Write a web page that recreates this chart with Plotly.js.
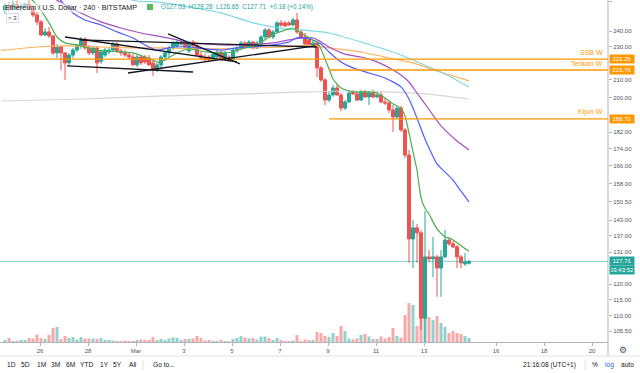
<!DOCTYPE html>
<html><head><meta charset="utf-8">
<script src="https://cdn.plot.ly/plotly-3.0.1.min.js"></script>
<style>html,body{margin:0;padding:0;background:#fff;overflow:hidden}#chart{width:640px;height:373px}</style>
</head><body><div id="chart"></div>
<script>
// ---- 4h candles, ETH/USD Bitstamp (first candle Feb 24 13:00, every 4 hours)
const OPEN  = [254.4,257.2,255.0,258.6,255.7,257.2,258.6,255.7,250.9,246.2,
               237.5,239.5,236.9,226.1,229.8,226.1,220.0,224.8,227.9,230.5,
               234.9,229.2,226.1,229.2,221.0,224.8,226.7,227.9,231.7,227.3,
               226.1,224.8,223.6,218.8,223.6,223.6,223.0,220.0,215.8,218.8,
               223.6,226.1,229.2,230.5,231.7,233.0,227.3,233.0,230.5,224.8,
               223.0,223.6,222.4,223.6,226.7,221.8,223.6,221.8,227.9,229.2,
               232.4,229.8,233.0,229.2,232.4,236.2,240.8,236.2,239.5,245.5,
               245.5,245.5,244.1,247.5,239.5,236.2,234.3,231.1,232.4,217.0,
               210.0,198.7,201.5,205.4,201.5,194.4,197.7,203.2,202.1,198.7,
               203.2,200.4,202.6,200.4,201.5,197.7,197.1,193.4,189.7,194.4,
               183.1,170.9,135.8,140.0,138.1,109.3,129.3,128.6,129.3,125.4,
               129.3,135.4,134.0,132.9,129.3,126.8,127.03];
const HIGH  = [259.3,260.0,260.7,261.0,259.3,259.3,261.0,257.9,253.0,247.5,
               242.1,242.8,237.5,231.7,231.1,226.7,226.1,229.2,231.7,236.2,
               236.2,231.1,230.5,230.5,227.9,229.2,229.8,233.0,233.0,228.6,
               227.9,226.7,225.4,224.8,224.2,224.8,224.8,221.2,220.0,224.8,
               227.3,230.5,233.7,234.3,234.3,233.7,233.7,234.3,233.0,226.7,
               225.4,224.8,226.7,227.9,227.3,227.3,224.8,228.6,230.5,233.7,
               233.7,234.3,233.7,233.7,237.5,242.1,242.1,240.8,246.8,247.5,
               246.8,246.8,248.9,252.3,240.8,238.8,235.6,233.7,233.0,218.2,
               211.1,203.2,207.1,207.1,202.6,198.7,203.7,204.3,203.7,204.3,
               204.3,203.7,204.3,203.2,203.7,199.9,198.2,196.0,195.5,195.5,
               184.1,173.3,143.0,141.5,139.2,146.6,131.7,136.6,130.0,131.7,
               139.2,136.2,135.1,133.6,130.0,130.7,128.28];
const LOW   = [251.6,253.0,253.7,254.4,253.0,256.0,254.4,249.5,244.1,236.9,
               236.9,235.6,224.8,223.0,215.8,210.0,218.2,223.0,226.7,228.6,
               227.9,224.8,224.8,214.0,219.4,223.6,225.4,227.3,226.1,224.2,
               223.6,222.4,218.2,217.6,218.8,219.4,218.2,212.3,214.6,216.4,
               221.2,223.6,227.9,229.2,230.5,229.2,226.1,229.2,224.2,221.8,
               221.2,220.6,221.2,223.0,221.2,221.2,220.6,221.2,226.1,228.6,
               229.2,229.8,228.6,228.6,230.5,234.9,235.6,234.9,238.8,242.8,
               242.8,243.5,243.5,238.2,234.9,230.5,230.5,229.8,211.7,208.8,
               196.0,197.7,200.4,201.0,192.8,193.4,197.1,201.5,198.2,198.2,
               199.9,196.0,199.9,199.9,197.1,196.0,191.8,182.1,188.6,182.1,
               169.5,127.2,125.4,127.2,105.8,90.0,127.5,122.3,115.9,115.9,
               128.9,133.3,132.4,125.4,125.4,126.1,126.65];
const CLOSE = [257.2,255.0,258.6,255.7,257.2,258.6,255.7,250.9,246.2,237.5,
               239.5,236.9,226.1,229.8,226.1,220.0,224.8,227.9,230.5,234.9,
               229.2,226.1,229.2,220.0,226.7,227.9,227.9,231.7,227.3,226.1,
               224.8,223.6,218.8,223.6,220.0,220.6,218.8,215.8,218.8,223.6,
               226.1,229.2,232.4,233.0,233.0,229.8,232.4,230.5,224.8,223.0,
               221.8,221.8,225.4,226.7,221.8,226.1,221.8,227.9,229.2,232.4,
               229.8,233.0,229.2,232.4,236.2,240.8,236.2,239.5,245.5,244.1,
               243.5,244.1,247.5,239.5,236.2,231.7,231.1,232.4,217.0,210.0,
               198.7,201.5,205.4,201.5,194.4,197.7,202.6,202.1,198.7,203.2,
               200.4,202.6,200.4,201.5,197.7,197.1,193.4,189.7,194.4,183.1,
               170.9,135.8,140.0,138.1,109.3,129.3,128.6,129.3,125.4,129.3,
               135.4,134.0,132.9,129.3,127.2,127.53,127.71];
// volume (thousand ETH, relative)
const VOLUME_K = [2,4,1,1,2,2,4,3.5,7.5,4, 3,7,14,15,3,6,4,5,2.5,5,
                  3.5,3.5,3.5,3,4,2,2,1.5,1,1, 1.5,1,1,2,2.5,2,2,5,2,3,
                  2,3.5,4.5,4,2,3,3,3.5,6,4, 1.5,2,1,1,2,1,1,3,4,6,
                  4.5,3.5,4,2.5,5.5,5.5,4,2,4,2, 1,1,1.5,7,1,2.5,2,2,10,9,
                  6,5,9,6,16,11,3.5,2.5,3.5,7, 8,5.5,3,3,5.5,3.5,5,14,6,4.5,
                  27,39,37,16,60,45,25,22,26,19, 15,9,11,9,8,6,4];
// moving averages (candle index, price)
const MA_GREEN_IDX  = [5,8,11,13,15,18,20,23,26,29,32,35,38,39,43,46,50,54,57,60,63,66,68,71,72,74,77,78,79,81,82,84,87,91,93,95,97,99,100,101,102,103,104,105,106,108,110,111,112,114,116];
const MA_GREEN_VAL  = [266,257.9,245.5,236.2,232.4,231.1,229.8,227.9,227.3,226.7,226.1,223.6,220.6,220.6,226.1,228.6,226.7,226.1,226.7,229.2,231.1,236.2,238.8,241.5,242.1,238.8,234.3,233.0,228.6,216.4,210.5,205.4,203.2,203.2,202.6,199.9,196.6,194.4,190.2,181.6,172.4,164.0,152.1,147.7,145.4,139.6,136.6,136.2,135.4,133.3,131.3];
const MA_BLUE_IDX   = [13,17,20,24,28,32,35,38,42,46,50,54,58,62,67,71,73,76,78,79,81,84,87,91,95,99,101,103,105,106,108,110,112,114,116];
const MA_BLUE_VAL   = [264,252.3,247.5,244.1,239.5,235.6,231.1,227.9,229.8,229.8,228.6,227.9,229.2,229.8,231.1,233.0,235.6,234.9,233.0,231.7,226.7,220.6,217.0,214.0,211.1,206.0,199.3,189.1,178.6,174.3,166.8,163.1,159.6,154.8,150.3];
const MA_PURPLE_IDX = [12,15,19,24,29,34,38,43,46,50,54,58,63,67,71,74,77,79,81,85,89,93,97,99,101,103,105,107,109,111,113,116];
const MA_PURPLE_VAL = [263,257.9,252.3,246.2,242.1,238.8,236.9,234.3,232.4,231.7,231.1,231.1,231.7,232.4,234.3,235.6,235.6,233.0,229.8,225.4,223.6,220.6,215.8,212.8,208.8,202.6,196.6,190.7,185.1,181.1,177.6,173.3];
const MA_CYAN_IDX   = [28,33,38,46,54,62,70,74,81,89,97,102,106,110,116];
const MA_CYAN_VAL   = [264,260.7,260.0,256.4,252.3,245.5,241.5,240.8,238.8,233.0,226.7,221.8,217.6,213.4,206.0];
const MA_ORANGE_IDX = [-1,0,8,16,24,32,40,50,60,70,76,81,89,96,102,108,116];
const MA_ORANGE_VAL = [227.9,227.9,229.8,230.5,229.8,229.2,229.2,228.6,229.2,229.8,230.8,229.2,226.7,223.0,220.0,215.2,209.4];
const MA_GREY_IDX   = [-1,20,40,60,75,85,95,105,116];
const MA_GREY_VAL   = [198.2,199.3,201.0,202.1,203.2,203.7,203.2,202.1,199.3];
// drawn trend lines
const TREND_X0 = ['2020-02-27 01:00','2020-02-27 03:00','2020-03-02 08:00','2020-02-29 16:00','2020-02-27 16:00'];
const TREND_Y0 = [236.2,218.2,238.2,214.0,234.3];
const TREND_X1 = ['2020-03-05 05:00','2020-03-03 09:00','2020-03-05 08:00','2020-03-08 11:00','2020-03-08 13:00'];
const TREND_Y1 = [220.6,214.6,219.4,230.5,229.8];
// weekly ichimoku levels
const LEVEL_NAMES = ['SSB W','Tenkan W','Kijun W'];
const LEVEL_VALUES = [222.29,215.76,188.73];
const LEVEL_START = ['2020-02-20','2020-03-09 01:00','2020-03-09 01:00'];
const LAST_PRICE = 127.71;
const TICK_DATES = ['2020-02-26','2020-02-28','2020-03-01','2020-03-03','2020-03-05','2020-03-07','2020-03-09','2020-03-11','2020-03-13','2020-03-16','2020-03-18','2020-03-20'];
const TICK_LABELS = ['26','28','Mar','3','5','7','9','11','13','16','18','20'];
const PRICE_TICKS = [260,240,230,210,200,182,174,166,158,150.5,143,137,131,120,115,110,105.5];

const BASE = Date.UTC(2020,1,24,13,0);
function tAt(i){ return new Date(BASE + i*4*3600*1000).toISOString().slice(0,16).replace('T',' '); }
const TIME = OPEN.map((_,i)=>tAt(i));
const UP='#26a69a', DN='#ef5350';
const volColors = OPEN.map((o,i)=> CLOSE[i]>=o ? 'rgba(38,166,154,0.5)' : 'rgba(239,83,80,0.5)');

const W=608, Hh=342;
const px = x => x/W, py = y => 1 - y/Hh;
const FONT = 'Liberation Sans, Arial, sans-serif';

const traces = [];
traces.push({type:'bar', x:TIME, y:VOLUME_K, xaxis:'x', yaxis:'y', marker:{color:volColors, line:{width:0}}, hoverinfo:'skip'});
function ma(idx, val, color){
  traces.push({type:'scatter', mode:'lines', x:idx.map(tAt), y:val, xaxis:'x', yaxis:'y2',
    line:{color:color, width:1.2, shape:'spline', smoothing:0.6}, hoverinfo:'skip'});
}
ma(MA_GREY_IDX, MA_GREY_VAL, '#d6d6d6');
ma(MA_ORANGE_IDX, MA_ORANGE_VAL, '#ffb25e');
ma(MA_CYAN_IDX, MA_CYAN_VAL, '#7fd6e4');
ma(MA_PURPLE_IDX, MA_PURPLE_VAL, '#a64fc0');
ma(MA_BLUE_IDX, MA_BLUE_VAL, '#4f5cff');
ma(MA_GREEN_IDX, MA_GREEN_VAL, '#4caf50');
LEVEL_VALUES.forEach((v,k)=>{
  traces.push({type:'scatter', mode:'lines', x:[LEVEL_START[k],'2020-03-25'], y:[v,v], xaxis:'x', yaxis:'y2',
    line:{color:'#ff9800', width:1.3}, hoverinfo:'skip'});
});
traces.push({type:'scatter', mode:'lines', x:['2020-02-20','2020-03-25'], y:[LAST_PRICE,LAST_PRICE], xaxis:'x', yaxis:'y2',
  line:{color:'rgba(38,166,154,0.55)', width:1}, hoverinfo:'skip'});
TREND_X0.forEach((x0,k)=>{
  traces.push({type:'scatter', mode:'lines', x:[x0,TREND_X1[k]], y:[TREND_Y0[k],TREND_Y1[k]], xaxis:'x', yaxis:'y2',
    line:{color:'#131722', width:1.3}, hoverinfo:'skip'});
});
traces.push({type:'candlestick', x:TIME, open:OPEN, high:HIGH, low:LOW, close:CLOSE, xaxis:'x', yaxis:'y2',
  increasing:{line:{color:UP, width:1}, fillcolor:UP}, decreasing:{line:{color:DN, width:1}, fillcolor:DN},
  whiskerwidth:0, hoverinfo:'skip'});

const ann = [];
ann.push({xref:'paper', yref:'paper', x:px(4), y:py(7), xanchor:'left', yanchor:'middle', showarrow:false,
  text:'Ethereum / U.S. Dollar · 240 · BITSTAMP', font:{family:FONT, size:7.2, color:'#131722'},
  bgcolor:'rgba(255,255,255,0.55)', borderpad:0});
ann.push({xref:'paper', yref:'paper', x:px(159), y:py(7), xanchor:'left', yanchor:'middle', showarrow:false,
  text:'O127.03  H128.28  L126.65  C127.71  +0.18 (+0.14%)', font:{family:FONT, size:6.3, color:UP}});
ann.push({xref:'paper', yref:'paper', x:px(12), y:py(18.5), xanchor:'center', yanchor:'middle', showarrow:false,
  text:'&gt; 3', font:{family:FONT, size:6, color:'#333'}, bgcolor:'#fff', bordercolor:'#d8dbe3', borderwidth:1, borderpad:1});
LEVEL_VALUES.forEach((v,k)=>{
  ann.push({xref:'paper', yref:'y2', x:px(605), y:Math.log10(v), xanchor:'right', yanchor:'bottom', yshift:1, showarrow:false,
    text:LEVEL_NAMES[k], font:{family:FONT, size:7, color:'#ff9800'}});
  ann.push({xref:'paper', yref:'y2', x:1, y:Math.log10(v), xanchor:'left', yanchor:'middle', xshift:1, showarrow:false,
    text:v.toFixed(2), font:{family:FONT, size:6, color:'#fff'}, bgcolor:'#ff9800', borderpad:1, width:22});
});
ann.push({xref:'paper', yref:'y2', x:1, y:Math.log10(LAST_PRICE), xanchor:'left', yanchor:'middle', xshift:1, showarrow:false,
  text:LAST_PRICE.toFixed(2), font:{family:FONT, size:6, color:'#fff'}, bgcolor:UP, borderpad:1, width:22});
ann.push({xref:'paper', yref:'paper', x:1, y:py(270), xanchor:'left', yanchor:'middle', xshift:1, showarrow:false,
  text:'03:43:52', font:{family:FONT, size:6, color:'#fff'}, bgcolor:UP, borderpad:1, width:22});
// bottom toolbar
const TB = [['1D',11],['5D',25],['1M',41.5],['3M',55],['6M',70],['YTD',86.5],['1Y',104],['5Y',117],['All',132.5],['Go to...',164],['21:16:08 (UTC+1)',549.5],['%',594.5],['log',609],['auto',627]];
TB.forEach(([t,x])=>{
  ann.push({xref:'paper', yref:'paper', x:px(x), y:py(365), xanchor:'center', yanchor:'middle', showarrow:false,
    text:t, font:{family:FONT, size:6.6, color: t==='log' ? '#2962ff' : '#131722'}});
});
ann.push({xref:'paper', yref:'paper', x:px(623), y:py(350), xanchor:'center', yanchor:'middle', showarrow:false,
  text:'⚙', font:{family:'DejaVu Sans', size:9, color:'#50535e'}});

const shapes = [
  {type:'line', xref:'paper', yref:'paper', x0:1, x1:1, y0:py(356), y1:1, line:{color:'#b2b5be', width:1}},
  {type:'line', xref:'paper', yref:'paper', x0:0, x1:px(640), y0:py(356), y1:py(356), line:{color:'#e0e3eb', width:1}},
  {type:'line', xref:'paper', yref:'paper', x0:px(143), x1:px(143), y0:py(360), y1:py(370), line:{color:'#e0e3eb', width:1}},
  {type:'line', xref:'paper', yref:'paper', x0:px(585), x1:px(585), y0:py(360), y1:py(370), line:{color:'#e0e3eb', width:1}},
  {type:'rect', xref:'paper', yref:'paper', x0:px(147), x1:px(153), y0:py(10), y1:py(4), line:{width:0}, fillcolor:'#5cb85c'}
];

const layout = {
  width:640, height:373, margin:{l:0, r:32, t:0, b:31}, paper_bgcolor:'#fff', plot_bgcolor:'#fff',
  showlegend:false, hovermode:false, bargap:0.25, boxgap:0.25, boxgroupgap:0,
  font:{family:FONT, size:6, color:'#50535e'},
  xaxis:{type:'date', range:['2020-02-24 08:00','2020-03-20 16:00'], tickvals:TICK_DATES, ticktext:TICK_LABELS,
    ticks:'outside', ticklen:3, tickcolor:'#b2b5be', showgrid:false, zeroline:false, showline:true, linecolor:'#b2b5be',
    linewidth:1, tickfont:{family:FONT, size:6, color:'#50535e'}, rangeslider:{visible:false}, fixedrange:true},
  yaxis:{range:[0,342], visible:false, fixedrange:true, showgrid:false, zeroline:false},
  yaxis2:{type:'log', overlaying:'y', side:'right', anchor:'x', range:[Math.log10(102.4), Math.log10(261.4)],
    tickvals:PRICE_TICKS, ticktext:PRICE_TICKS.map(v=>v.toFixed(2)), ticks:'outside', ticklen:3, tickcolor:'#b2b5be',
    showgrid:false, zeroline:false, showline:false, tickfont:{family:FONT, size:6, color:'#50535e'}, fixedrange:true},
  annotations:ann, shapes:shapes
};
Plotly.newPlot('chart', traces, layout, {staticPlot:true, displayModeBar:false});
</script></body></html>
